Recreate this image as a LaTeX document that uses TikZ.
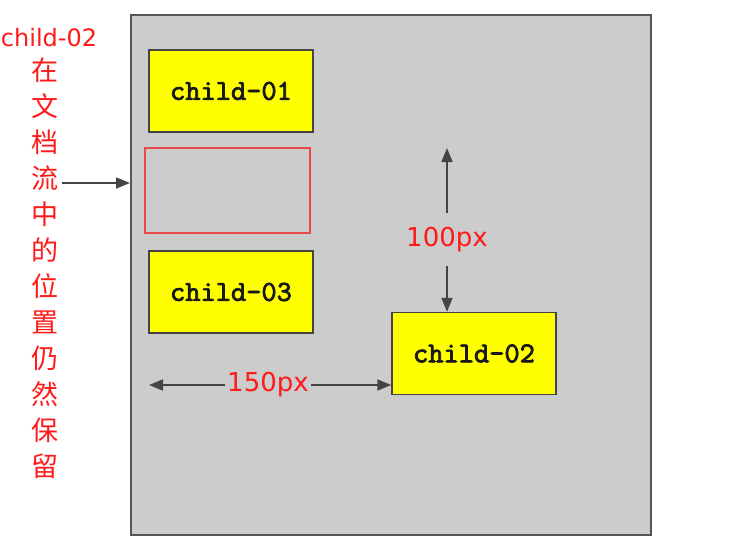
\documentclass[tikz,border=0pt]{standalone}
\usepackage{fontspec}
\setmainfont{DejaVu Sans}
\newfontfamily\cjk{Noto Sans CJK SC}
\newfontfamily\monob[FakeBold=2.5]{lmmono10-regular.otf}
\usetikzlibrary{arrows.meta}
\definecolor{boxgray}{HTML}{CCCCCC}
\definecolor{bordergray}{HTML}{555555}
\definecolor{arrowgray}{HTML}{444444}
\definecolor{redtxt}{HTML}{FF1A1A}
\definecolor{redline}{HTML}{E84A4A}
\definecolor{yel}{HTML}{FFFF00}
\tikzset{
  childbox/.style={draw=bordergray!80!black, line width=1.4pt, fill=yel, minimum width=164pt, minimum height=82pt, inner sep=0pt, font=\monob\fontsize{29}{29}\selectfont, text=black!90},
  redlabel/.style={text=redtxt, inner sep=0pt, font=\fontsize{26}{26}\selectfont},
  cjkchar/.style={text=redtxt, inner sep=0pt, font=\cjk\fontsize{27}{27}\selectfont},
  garrow/.style={draw=arrowgray, line width=1.6pt, -{Triangle[length=14pt,width=11pt]}}
}
\begin{document}
\begin{tikzpicture}[x=1pt,y=-1pt]
\useasboundingbox[fill=white] (0,0) rectangle (746,550);
% container
\node[draw=bordergray, line width=2pt, fill=boxgray, minimum width=520pt, minimum height=520pt, inner sep=0pt] (outer) at (391,275) {};
% children
\node[childbox] (c1) at (231,91) {child-01};
\node[draw=redline, line width=1.4pt, minimum width=165pt, minimum height=85pt, inner sep=0pt] (ghost) at (227.5,190.5) {};
\node[childbox] (c3) at (231,292) {child-03};
\node[childbox] (c2) at (474,353.5) {child-02};
% 100px
\node[redlabel] (l100) at (447,240) {100px};
\coordinate (vtop) at (447,148);
\draw[garrow] (447,213) -- (vtop);
\draw[garrow] (447,266) -- (c2.north -| l100);
% 150px
\node[redlabel] (l150) at (268,385) {150px};
\coordinate (hleft) at (149,385);
\draw[garrow] (225,385) -- (hleft);
\draw[garrow] (311,385) -- (c2.west |- l150);
% left label
\node[redlabel, font=\fontsize{24}{24}\selectfont] (lc2) at (49,38) {child-02};
\foreach \c [count=\i] in {在,文,档,流,中,的,位,置,仍,然,保,留} {
  \node[cjkchar] (t\i) at (45,{70+36*(\i-1)}) {\c};
}
\coordinate (astart) at (62,183);
\draw[garrow] (astart) -- (outer.west |- astart);
\end{tikzpicture}
\end{document}
